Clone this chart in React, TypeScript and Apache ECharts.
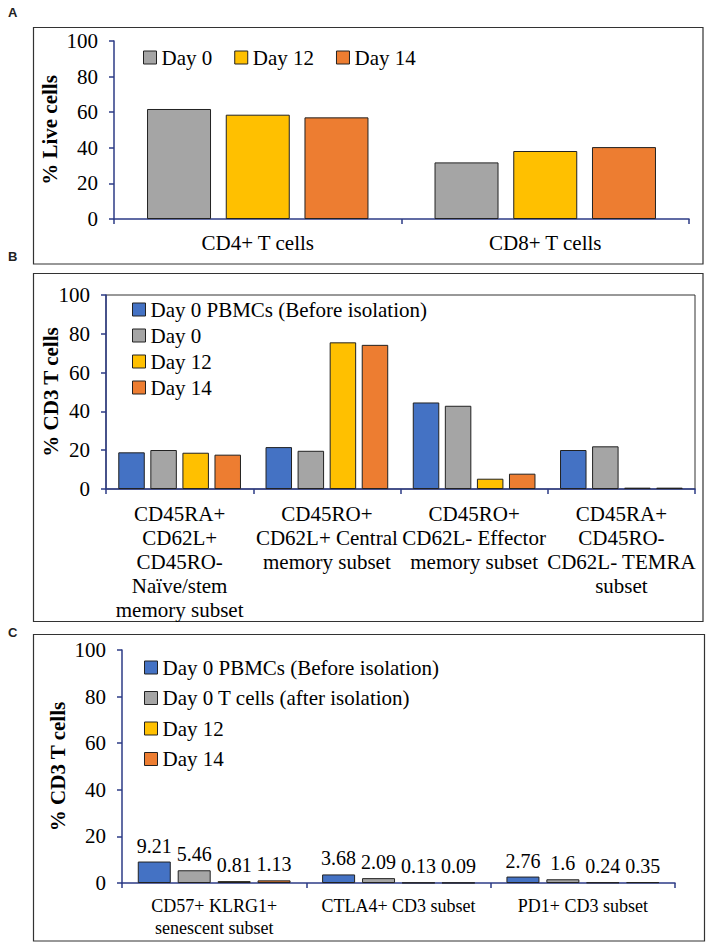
import React, { useEffect, useRef } from "react";
import * as echarts from "echarts";

// Panel A
const catsA = ["CD4+ T cells", "CD8+ T cells"];
const aDay0 = [61.8, 31.8];
const aDay12 = [58.6, 38.2];
const aDay14 = [57.1, 40.4];

// Panel B
const catsB = [
  "CD45RA+\nCD62L+\nCD45RO-\nNaïve/stem\nmemory subset",
  "CD45RO+\nCD62L+ Central\nmemory subset",
  "CD45RO+\nCD62L- Effector\nmemory subset",
  "CD45RA+\nCD45RO-\nCD62L- TEMRA\nsubset",
];
const bPbmc = [18.9, 21.6, 44.6, 20.1];
const bDay0 = [20.1, 19.7, 42.9, 22.0];
const bDay12 = [18.7, 75.6, 5.3, 0.7];
const bDay14 = [17.7, 74.3, 7.9, 0.7];

// Panel C
const catsC = ["CD57+ KLRG1+\nsenescent subset", "CTLA4+ CD3 subset", "PD1+ CD3 subset"];
const cPbmc = [9.21, 3.68, 2.76];
const cDay0T = [5.46, 2.09, 1.6];
const cDay12 = [0.81, 0.13, 0.24];
const cDay14 = [1.13, 0.09, 0.35];

const yTicks = { min: 0, max: 100, interval: 20 };

const BLUE = "#4472c4";
const GRAY = "#a5a5a5";
const YELLOW = "#ffc000";
const ORANGE = "#ed7d31";
const AXIS = "#2d3b86";
const FONT = "Liberation Serif";

export default function App() {
  const ref = useRef<HTMLDivElement>(null);
  useEffect(() => {
    if (!ref.current) return;
    const chart = echarts.init(ref.current, undefined, { renderer: "svg" });

    const xAxisBase = (gridIndex: number, data: string[], fontSize: number, lineHeight: number, margin: number) => ({
      type: "category",
      gridIndex,
      data,
      axisLine: { lineStyle: { color: AXIS, width: 1.5 } },
      axisTick: { show: true, length: 5, lineStyle: { color: AXIS, width: 1.5 } },
      axisLabel: { color: "#000", fontFamily: FONT, fontSize, lineHeight, margin, interval: 0 },
    });
    const yAxisBase = (gridIndex: number, name: string, nameGap: number) => ({
      type: "value",
      gridIndex,
      ...yTicks,
      name,
      nameLocation: "middle",
      nameGap,
      nameMoveOverlap: false,
      nameTextStyle: { color: "#000", fontFamily: FONT, fontSize: 21, fontWeight: "bold" },
      axisLine: { show: true, lineStyle: { color: AXIS, width: 1.5 } },
      axisTick: { show: true, length: 5, lineStyle: { color: AXIS, width: 1.5 } },
      splitLine: { show: false },
      axisLabel: { color: "#000", fontFamily: FONT, fontSize: 21, margin: 16 },
    });
    const bar = (name: string, data: number[], color: string, idx: number, barWidth: number, barGap: string, label?: boolean) => ({
      type: "bar",
      name,
      data,
      xAxisIndex: idx,
      yAxisIndex: idx,
      barWidth,
      barGap,
      itemStyle: { color, borderColor: "#222", borderWidth: 1 },
      label: label
        ? { show: true, position: "top", distance: 6, color: "#000", fontFamily: FONT, fontSize: 20 }
        : { show: false },
    });
    const legendBase = {
      icon: "rect",
      itemWidth: 13,
      itemHeight: 13,
      itemStyle: { borderColor: "#222", borderWidth: 1 },
      textStyle: { color: "#000", fontFamily: FONT, fontSize: 21 },
      selectedMode: false,
    };

    chart.setOption({
      animation: false,
      backgroundColor: "#fff",
      grid: [
        { left: 114, right: 19, top: 41, height: 178 },
        { left: 106, right: 13, top: 295, height: 194, show: true, borderColor: "#333", borderWidth: 1 },
        { left: 122, right: 33, top: 650, height: 233 },
      ],
      xAxis: [
        xAxisBase(0, catsA, 21, 22, 13),
        xAxisBase(1, catsB, 21, 24, 13),
        xAxisBase(2, catsC, 18, 22, 12),
      ],
      yAxis: [
        yAxisBase(0, "% Live cells", 54),
        yAxisBase(1, "% CD3 T cells", 45),
        yAxisBase(2, "% CD3 T cells", 54),
      ],
      legend: [
        { ...legendBase, orient: "horizontal", left: 138, top: 42, itemGap: 22, data: ["Day 0", "Day 12", "Day 14"] },
        {
          ...legendBase,
          orient: "vertical",
          left: 127,
          top: 294,
          itemGap: 5,
          data: ["Day 0 PBMCs (Before isolation)", "Day 0", "Day 12", "Day 14"],
        },
        {
          ...legendBase,
          orient: "vertical",
          left: 139,
          top: 652,
          itemGap: 9.5,
          data: ["Day 0 PBMCs (Before isolation)", "Day 0 T cells (after isolation)", "Day 12", "Day 14"],
        },
      ],
      graphic: [
        { type: "rect", shape: { x: 33.5, y: 27.5, width: 669.5, height: 236.5 }, style: { fill: "none", stroke: "#333", lineWidth: 1.2 }, silent: true },
        { type: "rect", shape: { x: 33.5, y: 273.5, width: 669.5, height: 348 }, style: { fill: "none", stroke: "#333", lineWidth: 1.2 }, silent: true },
        { type: "rect", shape: { x: 33.5, y: 634.5, width: 671, height: 306.5 }, style: { fill: "none", stroke: "#333", lineWidth: 1.2 }, silent: true },
        { type: "text", left: 8, top: 6, style: { text: "A", font: "bold 13px 'Liberation Sans'", fill: "#222" } },
        { type: "text", left: 8, top: 250, style: { text: "B", font: "bold 13px 'Liberation Sans'", fill: "#222" } },
        { type: "text", left: 8, top: 626, style: { text: "C", font: "bold 13px 'Liberation Sans'", fill: "#222" } },
      ],
      series: [
        bar("Day 0", aDay0, GRAY, 0, 64, "23%"),
        bar("Day 12", aDay12, YELLOW, 0, 64, "23%"),
        bar("Day 14", aDay14, ORANGE, 0, 64, "23%"),
        bar("Day 0 PBMCs (Before isolation)", bPbmc, BLUE, 1, 26.5, "21%"),
        bar("Day 0", bDay0, GRAY, 1, 26.5, "21%"),
        bar("Day 12", bDay12, YELLOW, 1, 26.5, "21%"),
        bar("Day 14", bDay14, ORANGE, 1, 26.5, "21%"),
        bar("Day 0 PBMCs (Before isolation)", cPbmc, BLUE, 2, 33, "21%", true),
        bar("Day 0 T cells (after isolation)", cDay0T, GRAY, 2, 33, "21%", true),
        bar("Day 12", cDay12, YELLOW, 2, 33, "21%", true),
        bar("Day 14", cDay14, ORANGE, 2, 33, "21%", true),
      ],
    });
    return () => chart.dispose();
  }, []);
  return <div ref={ref} style={{ position: "absolute", left: 0, top: 0, width: 708, height: 945 }} />;
}
